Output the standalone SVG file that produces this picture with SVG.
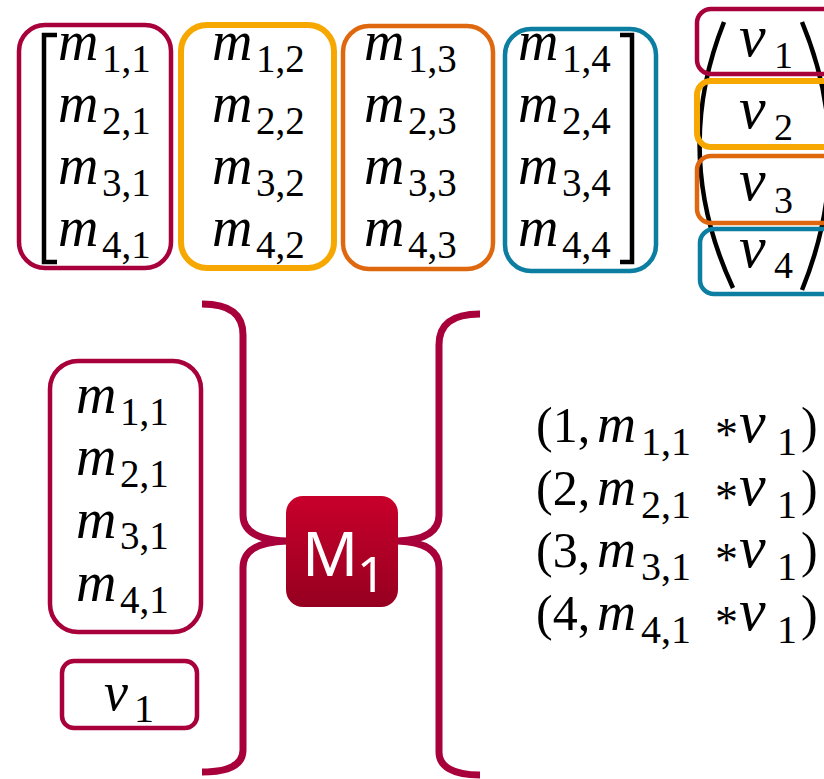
<svg xmlns="http://www.w3.org/2000/svg" width="824" height="779" viewBox="0 0 824 779" font-family="'Liberation Serif', 'Times New Roman', Times, serif">
  <defs>
    <linearGradient id="mapperFill" x1="0" y1="0" x2="0" y2="1">
      <stop offset="0" stop-color="#C8002B"/>
      <stop offset="1" stop-color="#960020"/>
    </linearGradient>
    <style>
      .box { fill: none; stroke-width: 4.5; }
      .c1 { stroke: #A8003B; }
      .c2 { stroke: #F6A800; stroke-width: 6; }
      .c3 { stroke: #DF680E; }
      .c4 { stroke: #0B7EA1; }
      .bracket { fill: none; stroke: #000; stroke-width: 4.5; }
      .brace { fill: none; stroke: #A8003B; stroke-width: 7; stroke-linecap: butt; }
      .m { font-style: italic; font-size: 56px; }
      .s { font-size: 39px; }
      .v { font-style: italic; font-size: 60px; }
      .vs { font-size: 38px; }
      .r { font-size: 50px; }
      .ri { font-style: italic; font-size: 54px; }
      .rv { font-style: italic; font-size: 60px; }
      .rs { font-size: 40px; }
      .op { font-size: 46px; }
    </style>
  </defs>

  <!-- matrix M: four column groups -->
  <g id="matrix-brackets">
    <path class="bracket" d="M57 35 H44 V262 H57"/>
    <path class="bracket" d="M620 35 H632 V262 H620"/>
  </g>

  <g id="col1">
    <rect class="box c1" x="19" y="25" width="152" height="243" rx="26"/>
    <text class="m" x="58" y="60">m</text><text class="s" x="102" y="72">1,1</text>
    <text class="m" x="58" y="122">m</text><text class="s" x="102" y="134">2,1</text>
    <text class="m" x="58" y="184">m</text><text class="s" x="102" y="196">3,1</text>
    <text class="m" x="58" y="246">m</text><text class="s" x="102" y="258">4,1</text>
  </g>

  <g id="col2">
    <rect class="box c2" x="181" y="25" width="153" height="243" rx="26"/>
    <text class="m" x="212" y="60">m</text><text class="s" x="256" y="72">1,2</text>
    <text class="m" x="212" y="122">m</text><text class="s" x="256" y="134">2,2</text>
    <text class="m" x="212" y="184">m</text><text class="s" x="256" y="196">3,2</text>
    <text class="m" x="212" y="246">m</text><text class="s" x="256" y="258">4,2</text>
  </g>

  <g id="col3">
    <rect class="box c3" x="343" y="26" width="150" height="243" rx="26"/>
    <text class="m" x="364" y="60">m</text><text class="s" x="408" y="72">1,3</text>
    <text class="m" x="364" y="122">m</text><text class="s" x="408" y="134">2,3</text>
    <text class="m" x="364" y="184">m</text><text class="s" x="408" y="196">3,3</text>
    <text class="m" x="364" y="246">m</text><text class="s" x="408" y="258">4,3</text>
  </g>

  <g id="col4">
    <rect class="box c4" x="505" y="29" width="151" height="242" rx="26"/>
    <text class="m" x="518" y="60">m</text><text class="s" x="562" y="72">1,4</text>
    <text class="m" x="518" y="122">m</text><text class="s" x="562" y="134">2,4</text>
    <text class="m" x="518" y="184">m</text><text class="s" x="562" y="196">3,4</text>
    <text class="m" x="518" y="246">m</text><text class="s" x="562" y="258">4,4</text>
  </g>

  <!-- vector v -->
  <g id="vector-parens">
    <path class="bracket" d="M724 22 Q671 155 733 288"/>
    <path class="bracket" d="M802 22 Q857 155 802 290"/>
  </g>
  <g id="v1">
    <rect class="box c1" x="697" y="9" width="150" height="65" rx="14"/>
    <text class="v" x="739" y="56">v</text><text class="vs" x="774" y="68">1</text>
  </g>
  <g id="v2">
    <rect class="box c2" x="697" y="81" width="150" height="66" rx="14"/>
    <text class="v" x="739" y="128">v</text><text class="vs" x="774" y="140">2</text>
  </g>
  <g id="v3">
    <rect class="box c3" x="697" y="156" width="150" height="67" rx="14"/>
    <text class="v" x="739" y="200">v</text><text class="vs" x="774" y="213">3</text>
  </g>
  <g id="v4">
    <rect class="box c4" x="700" y="229" width="150" height="65" rx="14"/>
    <text class="v" x="739" y="267">v</text><text class="vs" x="774" y="278">4</text>
  </g>

  <!-- mapper input -->
  <g id="input-column">
    <rect class="box c1" x="50" y="361" width="151" height="271" rx="28" stroke-width="4"/>
    <text class="m" x="76" y="413">m</text><text class="s" x="120" y="425">1,1</text>
    <text class="m" x="76" y="475">m</text><text class="s" x="120" y="487">2,1</text>
    <text class="m" x="76" y="538">m</text><text class="s" x="120" y="549">3,1</text>
    <text class="m" x="76" y="601">m</text><text class="s" x="120" y="613">4,1</text>
  </g>
  <g id="input-v1">
    <rect class="box c1" x="62" y="661" width="135" height="67" rx="12"/>
    <text class="ri" x="104" y="710">v</text><text class="rs" x="134" y="722">1</text>
  </g>

  <!-- braces joining input and output to the mapper -->
  <g id="connectors">
    <path class="brace" d="M202 304 C230 304 243 314 243 335 V515 C243 530 255 540 287 541 M287 541 C255 542 243 552 243 568 V750 C243 764 230 772 202 772"/>
    <path class="brace" d="M480 314 C452 314 439 324 439 345 V515 C439 530 427 540 398 541 M398 541 C427 542 439 552 439 568 V752 C439 766 452 775 480 775"/>
  </g>

  <!-- mapper node -->
  <g id="mapper" font-family="'Noto Sans', 'Open Sans', sans-serif" fill="#fff">
    <rect x="286" y="496" width="112" height="111" rx="17" fill="url(#mapperFill)"/>
    <text x="302" y="576" font-size="62">M</text>
    <text x="357" y="592" font-size="50">1</text>
  </g>

  <!-- mapper output pairs -->
  <g id="output">
    <text class="r" x="536" y="442">(1,</text><text class="ri" x="597" y="442">m</text><text class="rs" x="641" y="455">1,1</text>
    <text class="op" x="715" y="450">*</text><text class="rv" x="739" y="442">v</text><text class="rs" x="777" y="455">1</text><text class="r" x="801" y="442">)</text>

    <text class="r" x="536" y="505">(2,</text><text class="ri" x="597" y="505">m</text><text class="rs" x="641" y="518">2,1</text>
    <text class="op" x="715" y="513">*</text><text class="rv" x="739" y="505">v</text><text class="rs" x="777" y="518">1</text><text class="r" x="801" y="505">)</text>

    <text class="r" x="536" y="567">(3,</text><text class="ri" x="597" y="567">m</text><text class="rs" x="641" y="580">3,1</text>
    <text class="op" x="715" y="575">*</text><text class="rv" x="739" y="567">v</text><text class="rs" x="777" y="580">1</text><text class="r" x="801" y="567">)</text>

    <text class="r" x="536" y="630">(4,</text><text class="ri" x="597" y="630">m</text><text class="rs" x="641" y="643">4,1</text>
    <text class="op" x="715" y="638">*</text><text class="rv" x="739" y="630">v</text><text class="rs" x="777" y="643">1</text><text class="r" x="801" y="630">)</text>
  </g>
</svg>
